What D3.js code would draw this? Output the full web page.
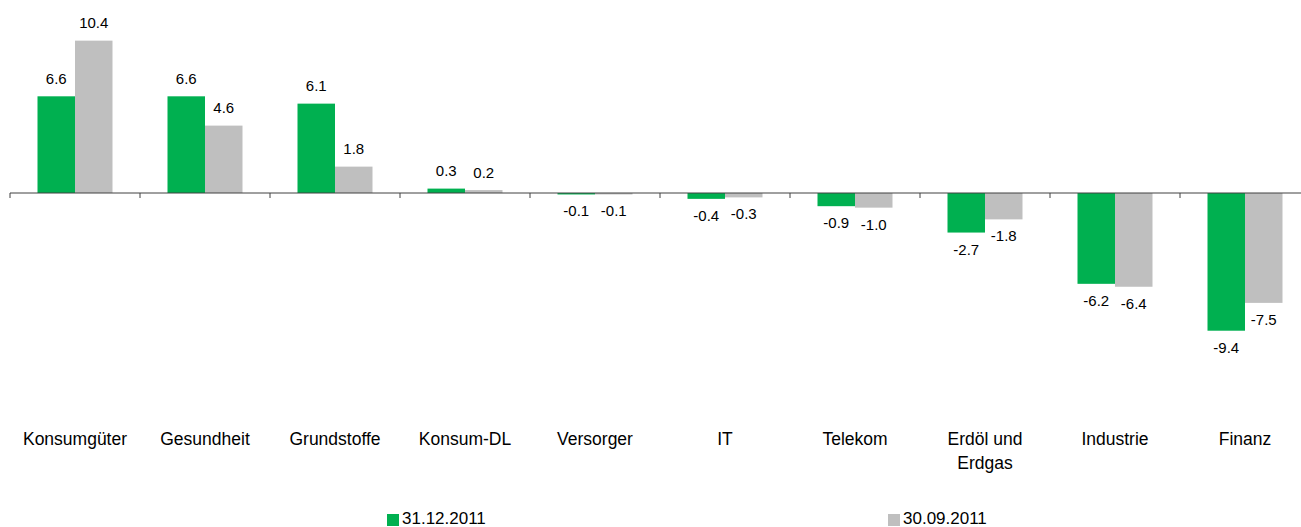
<!DOCTYPE html>
<html><head><meta charset="utf-8">
<script src="https://cdn.jsdelivr.net/npm/d3@7"></script>
<style>body{margin:0;background:#fff}svg{display:block;font-family:"Liberation Sans",Arial,sans-serif}</style>
</head><body>
<svg id="c" width="1301" height="527"></svg>
<script>
const categories = ["Konsumgüter","Gesundheit","Grundstoffe","Konsum-DL","Versorger","IT","Telekom","Erdöl und|Erdgas","Industrie","Finanz"];
const seriesNames = ["31.12.2011","30.09.2011"];
const values2011Dec = [6.6,6.6,6.1,0.3,-0.1,-0.4,-0.9,-2.7,-6.2,-9.4];
const values2011Sep = [10.4,4.6,1.8,0.2,-0.1,-0.3,-1.0,-1.8,-6.4,-7.5];
const colors = ["#00B050","#BFBFBF"];

const svg = d3.select("#c");
const x0 = d3.scaleBand().domain(categories).range([10,1310]).paddingInner(0).paddingOuter(0);
const y = d3.scaleLinear().domain([-10,10.4]).range([193+10*14.65,193-10.4*14.65]);
const groupW = 75;
const x1 = d3.scaleBand().domain([0,1]).range([0,groupW]);
const series = [values2011Dec, values2011Sep];

// bars
series.forEach((vals,si)=>{
  const g = svg.append("g");
  g.selectAll("rect").data(vals).join("rect")
    .attr("x",(d,i)=>x0(categories[i])+(x0.bandwidth()-groupW)/2+x1(si))
    .attr("width",x1.bandwidth())
    .attr("y",d=>Math.min(y(d),y(0)))
    .attr("height",d=>Math.abs(y(d)-y(0)))
    .attr("fill",colors[si]);
  g.selectAll("text").data(vals).join("text")
    .attr("x",(d,i)=>x0(categories[i])+(x0.bandwidth()-groupW)/2+x1(si)+x1.bandwidth()/2)
    .attr("y",d=>d>=0? y(d)-12.5 : y(d)+22)
    .attr("text-anchor","middle").attr("font-size",15).attr("fill","#000")
    .text(d=>d.toFixed(1));
});

// axis
const axis = d3.axisBottom(x0).tickSize(5).tickFormat("");
const ag = svg.append("g").attr("transform",`translate(0,${y(0)})`).call(axis);
ag.select(".domain").attr("stroke","#404040").attr("d","M10,0H1310");
ag.selectAll(".tick").remove();
const ticks = d3.range(categories.length+1).map(i=>10+i*x0.bandwidth());
ag.selectAll("line.t").data(ticks).join("line").attr("class","t")
  .attr("x1",d=>d).attr("x2",d=>d).attr("y1",0).attr("y2",5).attr("stroke","#404040");

// category labels
const cl = svg.append("g");
categories.forEach(c=>{
  const t = cl.append("text").attr("x",x0(c)+x0.bandwidth()/2).attr("y",445)
    .attr("text-anchor","middle").attr("font-size",17.5).attr("fill","#000");
  c.split("|").forEach((ln,i)=>t.append("tspan").attr("x",x0(c)+x0.bandwidth()/2).attr("dy",i?24:0).text(ln));
});

// legend
const legX = [387,888];
seriesNames.forEach((n,i)=>{
  svg.append("rect").attr("x",legX[i]).attr("y",514).attr("width",12).attr("height",12).attr("fill",colors[i]);
  svg.append("text").attr("x",legX[i]+15).attr("y",524).attr("font-size",17).attr("fill","#000").text(n);
});
</script>
</body></html>
